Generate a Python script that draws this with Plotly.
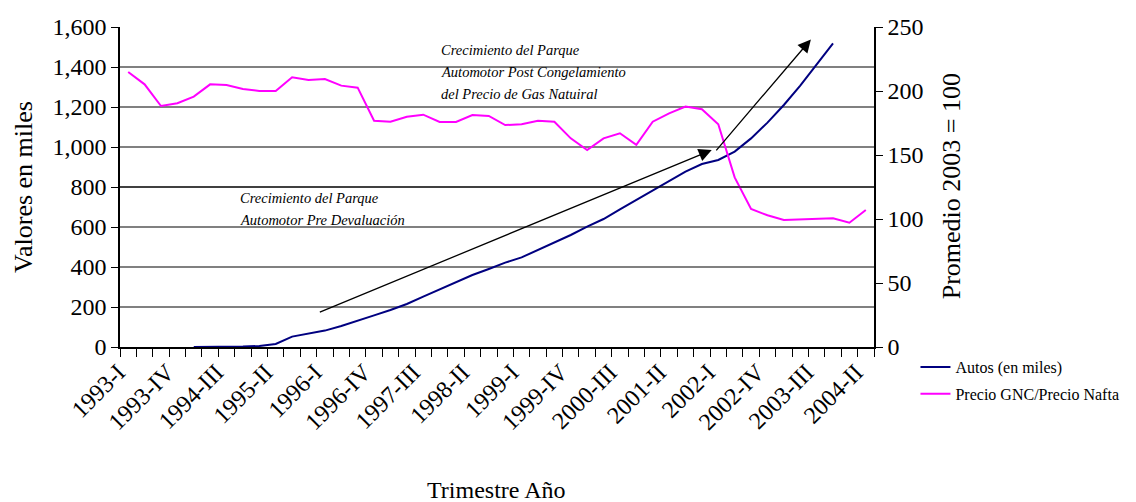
import plotly.graph_objects as go

years = list(range(1993, 2005))
roman = ["I", "II", "III", "IV"]
quarters = [f"{y}-{r}" for y in years for r in roman][:46]

# Autos (en miles), starts 1994-I and ends 2003-IV
autos_start = 4
autos = [0, 0, 1, 2, 5, 15, 52, 68, 82, 105, 130, 158, 185, 215, 252, 288,
         323, 360, 390, 422, 448, 485, 522, 560, 602, 640, 688, 735, 782, 832,
         877, 915, 935, 977, 1043, 1122, 1210, 1307, 1410, 1518]

# Precio GNC / Precio Nafta (Promedio 2003 = 100)
precio = [214.8, 205.2, 188.3, 190.4, 195.6, 205.2, 204.7, 201.6, 200.0, 200.0,
          210.7, 208.6, 209.4, 204.2, 202.6, 176.8, 176.0, 179.9, 181.5, 175.8,
          175.8, 181.2, 180.5, 173.4, 174.0, 176.8, 176.0, 163.0, 153.9, 163.0,
          167.0, 158.0, 176.0, 182.5, 187.8, 185.7, 174.0, 132.5, 107.8, 102.9,
          99.2, 99.7, 100.5, 100.5, 97.1, 107.0]

left_ticks = list(range(0, 1601, 200))
right_ticks = list(range(0, 251, 50))
label_idx = list(range(0, 46, 3))

post_text = ["Crecimiento del Parque", "Automotor Post Congelamiento", "del Precio de Gas Natuiral"]
post_y = [1485, 1375, 1265]
pre_text = ["Crecimiento del Parque", "Automotor Pre Devaluación"]
pre_y = [745, 635]

x_all = list(range(len(quarters)))
x_autos = x_all[autos_start:autos_start + len(autos)]

FONT = "Liberation Serif"

fig = go.Figure()
fig.add_trace(go.Scatter(x=x_autos, y=autos, mode="lines", name="Autos (en miles)",
                         line=dict(color="#000080", width=2), legendgroup="a"))
fig.add_trace(go.Scatter(x=x_all, y=precio, mode="lines", name="Precio GNC/Precio Nafta",
                         line=dict(color="#FF00FF", width=2), yaxis="y2", legendgroup="b"))

# horizontal black line at 800
fig.add_shape(type="line", xref="paper", x0=0, x1=1, yref="y", y0=800, y1=800,
              line=dict(color="black", width=1))

# arrows
fig.add_annotation(x=35.6, y=985, ax=11.6, ay=171, xref="x", yref="y", axref="x", ayref="y",
                   showarrow=True, arrowhead=2, arrowsize=2, arrowwidth=1.3,
                   arrowcolor="black", text="")
fig.add_annotation(x=41.65, y=1538, ax=35.8, ay=976, xref="x", yref="y", axref="x", ayref="y",
                   showarrow=True, arrowhead=2, arrowsize=2, arrowwidth=1.3,
                   arrowcolor="black", text="")

for t, yy in zip(post_text, post_y):
    fig.add_annotation(x=18.95, y=yy, xref="x", yref="y", xanchor="left", yanchor="middle",
                       showarrow=False, text=f"<i>{t}</i>",
                       font=dict(family=FONT, size=14.5, color="black"))
for t, yy in zip(pre_text, pre_y):
    fig.add_annotation(x=6.7, y=yy, xref="x", yref="y", xanchor="left", yanchor="middle",
                       showarrow=False, text=f"<i>{t}</i>",
                       font=dict(family=FONT, size=14.5, color="black"))

# x-axis title
fig.add_annotation(x=0.4987, y=-0.447, xref="paper", yref="paper", xanchor="center",
                   yanchor="middle", showarrow=False, text="Trimestre Año",
                   font=dict(family=FONT, size=24, color="black"))
# right y-axis title
fig.add_annotation(x=1.1032, y=0.5016, xref="paper", yref="paper", xanchor="center",
                   yanchor="middle", showarrow=False, text="Promedio 2003 = 100",
                   textangle=-90, font=dict(family=FONT, size=26, color="black"))

fig.update_layout(
    width=1136, height=502,
    margin=dict(l=120, r=260, t=27, b=155),
    paper_bgcolor="white", plot_bgcolor="white",
    font=dict(family=FONT, color="black"),
    showlegend=True,
    legend=dict(x=1.055, y=-0.0094, xanchor="left", yanchor="top",
                font=dict(family=FONT, size=16, color="black"),
                bgcolor="rgba(0,0,0,0)", tracegroupgap=3),
    xaxis=dict(
        range=[-0.5, 45.5], tickmode="array", tickvals=label_idx,
        ticktext=[quarters[i] for i in label_idx], tickangle=-45,
        tickfont=dict(family=FONT, size=24, color="black"), ticks="",
        ticklabelshift=-10,
        showgrid=False, zeroline=False, showline=True, linecolor="black", linewidth=1.5,
        minor=dict(tick0=-0.5, dtick=1, ticks="outside", ticklen=8, tickcolor="black",
                   tickwidth=1, showgrid=False),
    ),
    yaxis=dict(
        range=[0, 1600], tickmode="array", tickvals=left_ticks, tickformat=",",
        tickfont=dict(family=FONT, size=24, color="black"),
        ticks="outside", ticklen=7, tickcolor="black",
        showgrid=True, gridcolor="#808080", gridwidth=2,
        zeroline=False, showline=True, linecolor="black", linewidth=1.5,
        title=dict(text="Valores en miles", font=dict(family=FONT, size=26, color="black"),
                   standoff=12),
    ),
    yaxis2=dict(
        range=[0, 250], overlaying="y", side="right", tickmode="array", tickvals=right_ticks,
        tickfont=dict(family=FONT, size=24, color="black"),
        ticks="outside", ticklen=7, tickcolor="black",
        showgrid=False, zeroline=False, showline=True, linecolor="black", linewidth=1.5,
    ),
)

fig.write_html("out.html")
